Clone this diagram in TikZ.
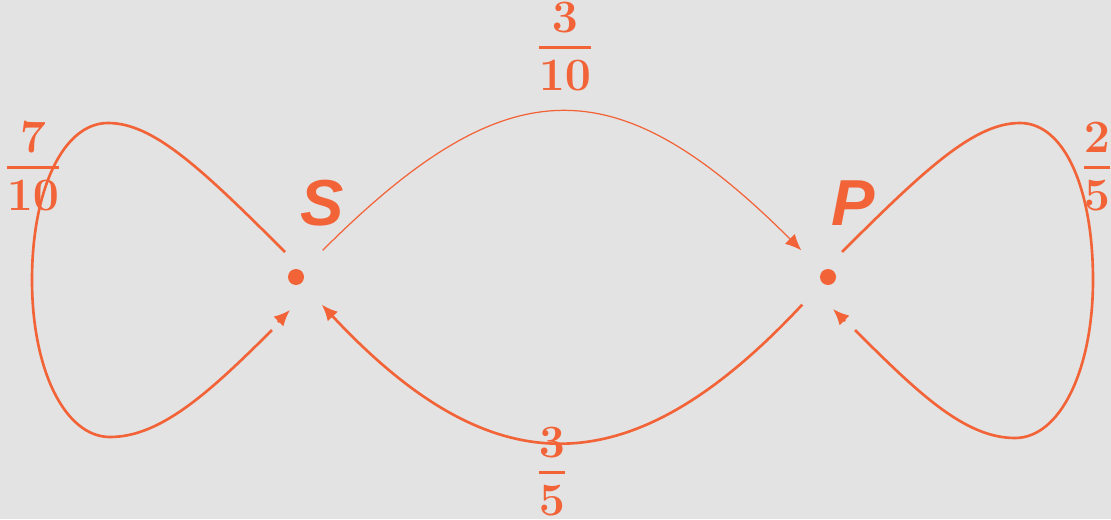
\RequirePackage{fix-cm}
\documentclass[tikz,border=0pt]{standalone}
\usepackage{amsmath}
\usepackage{fontspec}
\usetikzlibrary{arrows.meta,calc}
\definecolor{markov}{HTML}{F26338}
\definecolor{paper}{HTML}{E3E3E3}
\newfontfamily\statefont{Liberation Sans}
\newcommand{\pfrac}[2]{\genfrac{}{}{0.8pt}{0}{\lower2.2pt\hbox{$#1$}}{\raise1pt\hbox{$#2$}}}

\begin{document}
\begin{tikzpicture}[>={Latex[length=4.6pt,width=4pt]},
  state/.style={circle,minimum size=0.74cm,inner sep=0pt},
  edgeline/.style={markov,line width=0.75pt},
  prob/.style={markov,inner sep=0pt,anchor=base,font=\fontsize{13.2}{16}\selectfont\boldmath},
  statelabel/.style={markov,font=\statefont\bfseries\itshape\fontsize{18.5}{20}\selectfont}]
  \fill[paper] (0,0) rectangle (11.11,5.19);
  \useasboundingbox (0,0) rectangle (11.11,5.19);

  \node[state] (S) at (2.96,2.42) {};
  \node[state] (P) at (8.28,2.42) {};
  \fill[markov] (S) circle (0.08);
  \fill[markov] (P) circle (0.08);
  \node[statelabel] (s) at (3.22,3.16) {S};
  \node[statelabel] (p) at (8.53,3.16) {P};

  \coordinate (Sout) at ([shift={(-0.11,0.25)}]S.center);
  \coordinate (Send) at ([shift={(-0.24,-0.53)}]S.center);
  \coordinate (Sin) at ([shift={(-0.06,-0.33)}]S.center);
  \coordinate (Pout) at ([shift={(0.14,0.25)}]P.center);
  \coordinate (Pend) at ([shift={(0.27,-0.53)}]P.center);
  \coordinate (Pin) at ([shift={(0.05,-0.32)}]P.center);

  % S -> S
  \draw[edgeline] (Sout) .. controls +(135:1.2) and +(0.45,0) .. (1.08,3.96)
    .. controls +(-0.45,0) and +(0,0.9) .. (0.32,2.39)
    .. controls +(0,-0.9) and +(-0.45,0) .. (1.10,0.82)
    .. controls +(0.5,0) and +(225:0.9) .. (Send);
  \draw[edgeline,->] ($(Sin)+(225:0.17)$) -- (Sin);
  % P -> P
  \draw[edgeline] (Pout) .. controls +(45:1.2) and +(-0.45,0) .. (10.20,3.96)
    .. controls +(0.45,0) and +(0,0.9) .. (10.93,2.39)
    .. controls +(0,-0.9) and +(0.45,0) .. (10.15,0.81)
    .. controls +(-0.5,0) and +(315:0.9) .. (Pend);
  \draw[edgeline,->] ($(Pin)+(315:0.17)$) -- (Pin);
  % S -> P
  \draw[markov,line width=0.35pt,->] (S.45) to[out=45,in=135,looseness=1.4] (P.135);
  % P -> S
  \draw[edgeline,->] (P.227) to[out=227,in=313,looseness=1.34] (S.313);

  \node[prob] (ss) at (0.33,3.40) {$\pfrac{7}{10}$};
  \node[prob] (sp) at (5.65,4.60) {$\pfrac{3}{10}$};
  \node[prob] (ps) at (5.52,0.35) {$\pfrac{3}{5}$};
  \node[prob] (pp) at (10.97,3.40) {$\pfrac{2}{5}$};
\end{tikzpicture}
\end{document}
